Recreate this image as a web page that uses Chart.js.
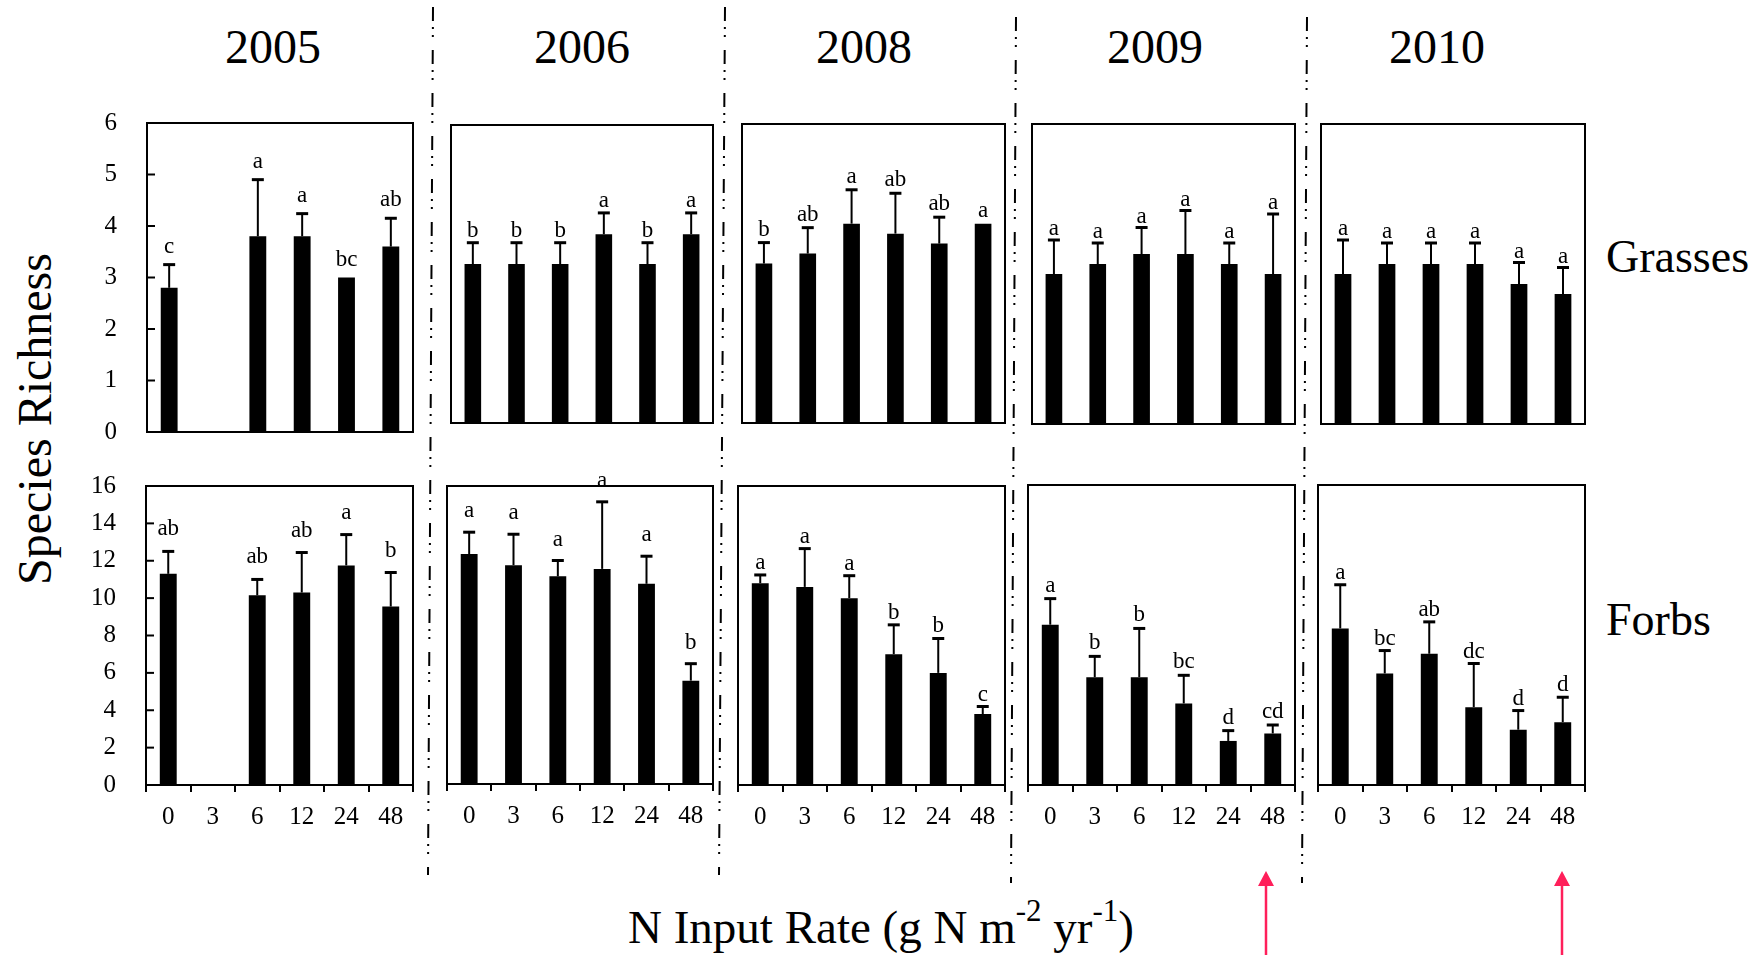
<!DOCTYPE html>
<html>
<head>
<meta charset="utf-8">
<script src="https://cdn.jsdelivr.net/npm/chart.js@4.4.0/dist/chart.umd.min.js"></script>
<style>
  html, body { margin: 0; padding: 0; background: #fff; }
  #fig { position: relative; width: 1764px; height: 955px; overflow: hidden;
         font-family: "Liberation Serif", "Times New Roman", serif; color: #000; }
  #fig canvas { position: absolute; }
  .lbl { position: absolute; white-space: nowrap; line-height: 1; }
  #deco { position: absolute; left: 0; top: 0; }
</style>
</head>
<body>
<div id="fig">
  <svg id="deco" width="1764" height="955"></svg>
  <div class="lbl" style="font-size:48px;left:273px;top:23px;transform:translateX(-50%)">2005</div>
  <div class="lbl" style="font-size:48px;left:582px;top:23px;transform:translateX(-50%)">2006</div>
  <div class="lbl" style="font-size:48px;left:864px;top:23px;transform:translateX(-50%)">2008</div>
  <div class="lbl" style="font-size:48px;left:1155px;top:23px;transform:translateX(-50%)">2009</div>
  <div class="lbl" style="font-size:48px;left:1437px;top:23px;transform:translateX(-50%)">2010</div>
  <div class="lbl" style="font-size:46px;left:1606px;top:234px">Grasses</div>
  <div class="lbl" style="font-size:46px;left:1606px;top:597px">Forbs</div>
  <div class="lbl" style="font-size:48px;left:35px;top:419px;transform:translate(-50%,-50%) rotate(-90deg)">Species Richness</div>
  <div class="lbl" style="font-size:47px;left:881px;top:904px;transform:translateX(-50%)">N Input Rate (g N m<span style="font-size:0.66em;position:relative;top:-0.72em">-2</span> yr<span style="font-size:0.66em;position:relative;top:-0.72em">-1</span>)</div>
</div>
<script>
// N input rates (g N m-2 yr-1) and sampling years
const rates = ['0', '3', '6', '12', '24', '48'];
const years = ['2005', '2006', '2008', '2009', '2010'];

// Grasses: mean species richness, standard error, significance letters
const grassMean2005 = [2.8, null, 3.8, 3.8, 3.0, 3.6];
const grassSE2005   = [0.45, null, 1.1, 0.44, 0, 0.55];
const grassLet2005  = ['c', '', 'a', 'a', 'bc', 'ab'];
const grassMean2006 = [3.2, 3.2, 3.2, 3.8, 3.2, 3.8];
const grassSE2006   = [0.43, 0.43, 0.43, 0.43, 0.43, 0.43];
const grassLet2006  = ['b', 'b', 'b', 'a', 'b', 'a'];
const grassMean2008 = [3.2, 3.4, 4.0, 3.8, 3.6, 4.0];
const grassSE2008   = [0.42, 0.52, 0.68, 0.81, 0.53, 0];
const grassLet2008  = ['b', 'ab', 'a', 'ab', 'ab', 'a'];
const grassMean2009 = [3.0, 3.2, 3.4, 3.4, 3.2, 3.0];
const grassSE2009   = [0.68, 0.42, 0.53, 0.87, 0.42, 1.2];
const grassLet2009  = ['a', 'a', 'a', 'a', 'a', 'a'];
const grassMean2010 = [3.0, 3.2, 3.2, 3.2, 2.8, 2.6];
const grassSE2010   = [0.68, 0.42, 0.42, 0.42, 0.43, 0.53];
const grassLet2010  = ['a', 'a', 'a', 'a', 'a', 'a'];

// Forbs
const forbMean2005 = [11.3, null, 10.15, 10.3, 11.75, 9.55];
const forbSE2005   = [1.2, null, 0.85, 2.14, 1.65, 1.82];
const forbLet2005  = ['ab', '', 'ab', 'ab', 'a', 'b'];
const forbMean2006 = [12.35, 11.75, 11.15, 11.55, 10.75, 5.55];
const forbSE2006   = [1.17, 1.66, 0.85, 3.6, 1.48, 0.91];
const forbLet2006  = ['a', 'a', 'a', 'a', 'a', 'b'];
const forbMean2008 = [10.8, 10.6, 10.0, 7.0, 6.0, 3.8];
const forbSE2008   = [0.44, 2.05, 1.2, 1.57, 1.84, 0.4];
const forbLet2008  = ['a', 'a', 'a', 'b', 'b', 'c'];
const forbMean2009 = [8.55, 5.75, 5.75, 4.35, 2.35, 2.75];
const forbSE2009   = [1.39, 1.11, 2.6, 1.5, 0.55, 0.45];
const forbLet2009  = ['a', 'b', 'b', 'bc', 'd', 'cd'];
const forbMean2010 = [8.35, 5.95, 7.0, 4.15, 2.95, 3.35];
const forbSE2010   = [2.33, 1.22, 1.7, 2.33, 1.02, 1.33];
const forbLet2010  = ['a', 'bc', 'ab', 'dc', 'd', 'd'];

// y-axis ticks per row
const grassTicks = [0, 1, 2, 3, 4, 5, 6];
const forbTicks = [0, 2, 4, 6, 8, 10, 12, 14, 16];

const FONT = '"Liberation Serif", "Times New Roman", serif';
const fig = document.getElementById('fig');

// plot-box positions [left, top, right, bottom] and letter gap (layout only)
const grassBoxes = [[147, 123, 413, 432], [451, 125, 713, 423], [742, 124, 1005, 423], [1032, 124, 1295, 424], [1321, 124, 1585, 424]];
const forbBoxes  = [[146, 486, 413, 785], [447, 486, 713, 784], [738, 486, 1005, 785], [1028, 485, 1295, 785], [1318, 485, 1585, 785]];
const grassGaps = [12, 6, 7, 5, 5];
const forbGaps  = [16, 15, 6, 7, 6];

function makePanel(box, mean, se, letters, ticks, showY, showX, gap) {
  const yW = showY ? 87 : 0;
  const xH = showX ? 60 : 0;
  const padT = 18, padB = showX ? 4 : 18, padL = 4, padR = 4;
  const [L, T, R, B] = box;
  const w = R - L + yW + padL + padR;
  const h = B - T + xH + padT + padB;
  const cv = document.createElement('canvas');
  cv.width = w; cv.height = h;
  cv.style.left = (L - yW - padL) + 'px';
  cv.style.top = (T - padT) + 'px';
  cv.style.width = w + 'px'; cv.style.height = h + 'px';
  fig.appendChild(cv);

  const deco = {
    id: 'deco',
    afterDatasetsDraw(chart) {
      const ctx = chart.ctx, a = chart.chartArea, ys = chart.scales.y;
      const meta = chart.getDatasetMeta(0);
      ctx.save();
      ctx.strokeStyle = '#000';
      ctx.fillStyle = '#000';
      meta.data.forEach((bar, i) => {
        if (mean[i] == null) return;
        const top = ys.getPixelForValue(mean[i] + se[i]);
        if (se[i] > 0) {
          ctx.lineWidth = 2;
          ctx.beginPath();
          ctx.moveTo(bar.x, bar.y);
          ctx.lineTo(bar.x, top);
          ctx.stroke();
          ctx.lineWidth = 3;
          ctx.beginPath();
          ctx.moveTo(bar.x - 6, top);
          ctx.lineTo(bar.x + 6, top);
          ctx.stroke();
        }
        ctx.font = '23px ' + FONT;
        ctx.textAlign = 'center';
        ctx.textBaseline = 'alphabetic';
        ctx.fillText(letters[i], bar.x, top - gap);
      });
      ctx.lineWidth = 2;
      ctx.strokeRect(a.left, a.top, a.right - a.left, a.bottom - a.top);
      if (showY) {
        ticks.forEach(v => {
          const y = ys.getPixelForValue(v);
          ctx.beginPath();
          ctx.moveTo(a.left, y);
          ctx.lineTo(a.left + 8, y);
          ctx.stroke();
        });
      }
      ctx.restore();
    }
  };

  return new Chart(cv, {
    type: 'bar',
    data: {
      labels: rates,
      datasets: [{
        data: mean,
        backgroundColor: '#000',
        borderWidth: 0,
        barPercentage: 0.38,
        categoryPercentage: 1
      }]
    },
    options: {
      responsive: false,
      animation: false,
      events: [],
      layout: { padding: { top: padT, bottom: padB, left: padL, right: padR } },
      plugins: { legend: { display: false }, tooltip: { enabled: false } },
      scales: {
        x: {
          display: showX,
          offset: true,
          grid: { offset: true, drawOnChartArea: false, color: '#000', tickColor: '#000', lineWidth: 2, tickWidth: 2, tickLength: 7 },
          border: { display: false },
          ticks: { color: '#000', font: { family: FONT, size: 25 }, padding: 10, maxRotation: 0, autoSkip: false },
          afterFit: s => { s.height = xH; }
        },
        y: {
          display: showY,
          min: ticks[0],
          max: ticks[ticks.length - 1],
          // invisible outward ticks only push the labels away from the box
          grid: { display: true, drawOnChartArea: false, drawTicks: true, tickLength: 27, color: 'rgba(0,0,0,0)', tickColor: 'rgba(0,0,0,0)' },
          border: { display: false },
          ticks: { color: '#000', font: { family: FONT, size: 25 }, padding: 3, stepSize: ticks[1] - ticks[0] },
          afterFit: s => { s.width = yW; }
        }
      }
    },
    plugins: [deco]
  });
}

const grassMeans = [grassMean2005, grassMean2006, grassMean2008, grassMean2009, grassMean2010];
const grassSEs = [grassSE2005, grassSE2006, grassSE2008, grassSE2009, grassSE2010];
const grassLets = [grassLet2005, grassLet2006, grassLet2008, grassLet2009, grassLet2010];
const forbMeans = [forbMean2005, forbMean2006, forbMean2008, forbMean2009, forbMean2010];
const forbSEs = [forbSE2005, forbSE2006, forbSE2008, forbSE2009, forbSE2010];
const forbLets = [forbLet2005, forbLet2006, forbLet2008, forbLet2009, forbLet2010];

years.forEach((yr, k) => {
  makePanel(grassBoxes[k], grassMeans[k], grassSEs[k], grassLets[k], grassTicks, k === 0, false, grassGaps[k]);
  makePanel(forbBoxes[k], forbMeans[k], forbSEs[k], forbLets[k], forbTicks, k === 0, true, forbGaps[k]);
});

// dash-dot-dot separators between years and the red arrows
const svg = document.getElementById('deco');
const NS = 'http://www.w3.org/2000/svg';
const seps = [[433, 7, 428, 875], [725, 7, 719, 875], [1016, 17, 1011, 883], [1307, 17, 1302, 883]];
seps.forEach(([x1, y1, x2, y2]) => {
  const ln = document.createElementNS(NS, 'line');
  ln.setAttribute('x1', x1); ln.setAttribute('y1', y1);
  ln.setAttribute('x2', x2); ln.setAttribute('y2', y2);
  ln.setAttribute('stroke', '#000');
  ln.setAttribute('stroke-width', '2');
  ln.setAttribute('stroke-dasharray', '14 6 2 6 2 13');
  svg.appendChild(ln);
});
[1266, 1562].forEach(x => {
  const ln = document.createElementNS(NS, 'line');
  ln.setAttribute('x1', x); ln.setAttribute('y1', 955);
  ln.setAttribute('x2', x); ln.setAttribute('y2', 884);
  ln.setAttribute('stroke', '#ff1f5a');
  ln.setAttribute('stroke-width', '2.5');
  svg.appendChild(ln);
  const hd = document.createElementNS(NS, 'polygon');
  hd.setAttribute('points', `${x - 8},886 ${x + 8},886 ${x},871`);
  hd.setAttribute('fill', '#ff1f5a');
  svg.appendChild(hd);
});
</script>
</body>
</html>
